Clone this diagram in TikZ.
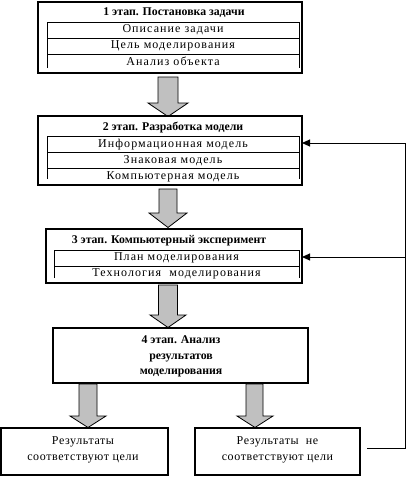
\documentclass[tikz,border=0pt]{standalone}
\usepackage{fontspec}
\setmainfont{Liberation Serif}
\newfontfamily\spaced[LetterSpace=9]{Liberation Serif}
\newfontfamily\spacedb[LetterSpace=5]{Liberation Serif}
\usetikzlibrary{arrows.meta}
\definecolor{arrowgray}{RGB}{192,192,192}
\begin{document}
\begin{tikzpicture}[x=1pt,y=-1pt,
  outer/.style={draw, line width=1.2pt, inner sep=0pt, outer sep=0pt},
  tbl/.style={line width=1pt},
  ttl/.style={inner sep=0pt, font=\fontsize{11.8}{13}\selectfont\bfseries},
  row/.style={inner sep=0pt, font=\fontsize{12}{13}\spaced},
  rowb/.style={inner sep=0pt, font=\fontsize{12}{13}\spacedb},
  blk/.style={fill=arrowgray, draw=black, line width=0.8pt, line join=miter},
  fb/.style={line width=1pt},
  fbarrow/.style={line width=1pt, -{Triangle[length=8pt,width=7pt]}}]
\useasboundingbox (0,0) rectangle (407,480);
\fill[white] (0,0) rectangle (407,480);

% ---- Box 1
\node[outer, minimum width=264pt, minimum height=71pt] (b1) at (170,37.5) {};
\node[ttl] (t1) at (174,12.5) {1 этап. Постановка задачи};
\draw[tbl] (47,68) -- (47,22) -- (299,22) -- (299,68);
\draw[tbl] (47,38) -- (299,38) (47,54) -- (299,54);
\node[row] (r11) at (173,30) {Описание задачи};
\node[row] (r12) at (173,46) {Цель моделирования};
\node[row] (r13) at (173,61.5) {Анализ объекта};

% ---- Arrow 1
\draw[blk] (158,77) -- (178,77) -- (178,103) -- (188,103) -- (168,116.5) -- (148,103) -- (158,103) -- cycle;

% ---- Box 2
\node[outer, minimum width=264pt, minimum height=69pt] (b2) at (170,150.5) {};
\node[ttl] (t2) at (173,127.5) {2 этап. Разработка модели};
\draw[tbl] (47,179) -- (47,136) -- (299,136) -- (299,179);
\draw[tbl] (47,152) -- (299,152) (47,168) -- (299,168);
\node[row] (r21) at (173,144.5) {Информационная модель};
\node[row] (r22) at (173,161) {Знаковая модель};
\begin{scope}
\clip (47,168) rectangle (299,181);
\node[row] (r23) at (173,177) {Компьютерная модель};
\end{scope}

% ---- Arrow 2
\draw[blk] (159,189) -- (177,189) -- (177,213) -- (187,213) -- (168,227.5) -- (149,213) -- (159,213) -- cycle;

% ---- Box 3
\node[outer, minimum width=256pt, minimum height=54pt] (b3) at (174,256) {};
\node[ttl] (t3) at (169,241) {3 этап. Компьютерный эксперимент};
\draw[tbl] (54,278) -- (54,250) -- (299,250) -- (299,278);
\draw[tbl] (54,266) -- (299,266);
\node[row] (r31) at (176.5,258) {План моделирования};
\node[row] (r32) at (176.5,274) {Технология\ \ моделирования};

% ---- Arrow 3
\draw[blk] (158.5,285) -- (177.5,285) -- (177.5,315) -- (186,315) -- (168,327.5) -- (150,315) -- (158.5,315) -- cycle;

% ---- Box 4
\node[outer, minimum width=255pt, minimum height=55pt] (b4) at (180.5,355.5) {};
\node[ttl, align=center] (t4) at (181,356.5) {4 этап. Анализ\\[2.5pt] результатов\\[2.5pt] моделирования};

% ---- Bottom arrows
\draw[blk] (79,384) -- (97,384) -- (97,416) -- (106,416) -- (88,427.5) -- (70,416) -- (79,416) -- cycle;
\draw[blk] (246,384) -- (263,384) -- (263,416) -- (273,416) -- (255,427.5) -- (237,416) -- (246,416) -- cycle;

% ---- Bottom boxes
\node[outer, minimum width=167pt, minimum height=47pt] (b5) at (84.5,451.5) {};
\node[rowb, align=center] (t5) at (83,450) {Результаты\\[3pt] соответствуют цели};
\node[outer, minimum width=165pt, minimum height=47pt] (b6) at (277.5,451.5) {};
\node[rowb, align=center] (t6) at (277.5,450) {Результаты\ \ не\\[3pt] соответствуют цели};

% ---- Feedback
\coordinate (fbs) at (367,448);
\coordinate (fbc) at (405,448);
\coordinate (fbt) at (405,143);
\coordinate (fbm) at (405,257);
\draw[fb] (fbs) -- (fbc) -- (fbt);
\draw[fbarrow] (fbt) -- (b2.east |- fbt);
\draw[fbarrow] (fbm) -- (b3.east |- fbm);
\end{tikzpicture}
\end{document}
